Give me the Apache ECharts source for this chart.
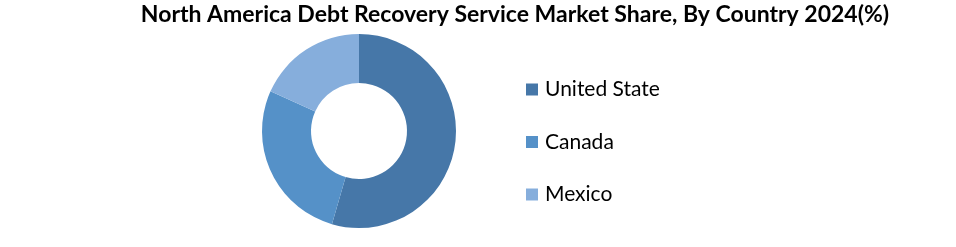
<!DOCTYPE html>
<html><head><meta charset="utf-8">
<script src="https://cdn.jsdelivr.net/npm/echarts@6/dist/echarts.min.js"></script>
<style>html,body{margin:0;padding:0;background:#fff}#c{width:956px;height:247px}</style>
</head><body><div id="c"></div>
<script>
const categories = ["United State", "Canada", "Mexico"];
const shares = [54.5, 27.2, 18.3];
const colors = ["#4677A8", "#5591C8", "#86AEDC"];
const titleText = "North America Debt Recovery Service Market Share, By Country 2024(%)";

const chart = echarts.init(document.getElementById('c'), null, {renderer: 'canvas'});
chart.setOption({
  animation: false,
  backgroundColor: '#fff',
  color: colors,
  title: {
    text: titleText,
    left: 515, top: 3, textAlign: 'center', padding: 0,
    textStyle: {fontFamily: 'Lato', fontWeight: 'bold', fontSize: 23, color: '#000'}
  },
  legend: {
    orient: 'vertical', left: 526, top: 79, padding: 0,
    itemWidth: 12, itemHeight: 12, itemGap: 31.5,
    icon: 'rect',
    textStyle: {fontFamily: 'Lato', fontSize: 21, color: '#000', lineHeight: 20, padding: [0,0,0,2]},
    data: categories
  },
  series: [{
    type: 'pie',
    center: [359, 131],
    radius: [48, 97],
    startAngle: 90,
    clockwise: true,
    label: {show: false},
    labelLine: {show: false},
    itemStyle: {borderWidth: 0},
    data: categories.map((n, i) => ({name: n, value: shares[i]}))
  }]
});
</script></body></html>
